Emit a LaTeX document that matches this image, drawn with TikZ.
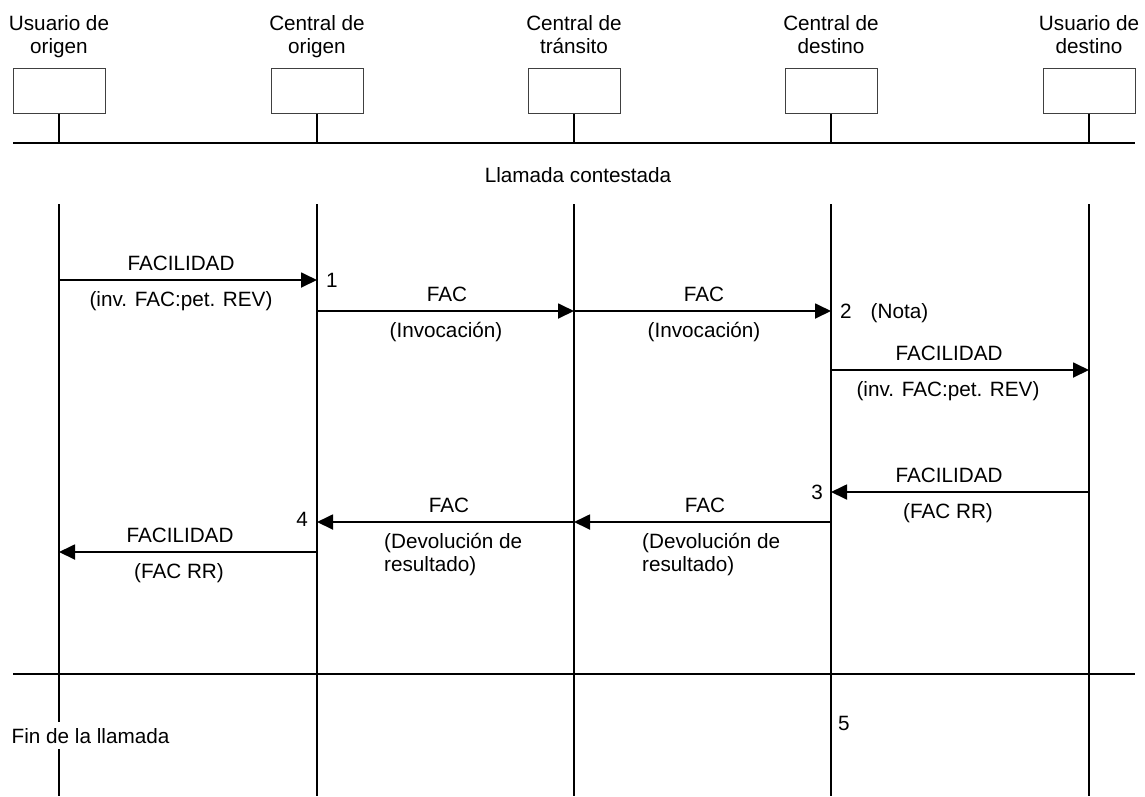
\documentclass[tikz,border=0pt]{standalone}
\usepackage{fontspec}
\setmainfont{Liberation Sans}
\usetikzlibrary{arrows.meta}
\newcommand{\twoline}[2]{\begin{tabular}[t]{@{}#1@{}}#2\end{tabular}}
\begin{document}
\begin{tikzpicture}[x=1pt,y=-1pt,
  every node/.style={inner sep=0pt, font=\fontsize{20.7}{23}\selectfont},
  entity/.style={draw=black!75, line width=1pt, minimum width=92pt, minimum height=45pt, anchor=north},
  life/.style={line width=1.8pt},
  sepline/.style={line width=2pt},
  msg/.style={line width=1.8pt, -{Triangle[length=16pt,width=15pt]}},
  lbl/.style={anchor=base},
  lblw/.style={anchor=base west},
  lble/.style={anchor=base east}]
\useasboundingbox (0,0) rectangle (1145,796);

% entities
\foreach \n/\x in {uo/59, co/317, ct/574, cd/831, ud/1089}{
  \node[entity] (\n) at (\x,68) {};
  \coordinate (\n-bus) at (\x,143);
  \coordinate (\n-top) at (\x,204);
  \coordinate (\n-bot) at (\x,796);
  \draw[life] (\n.south) -- (\n-bus);
  \draw[life] (\n-top) -- (\n-bot);
}
\node[lbl] (huo) at (59,30)  {\twoline{c}{Usuario de\\origen}};
\node[lbl] (hco) at (317,30) {\twoline{c}{Central de\\origen}};
\node[lbl] (hct) at (574,30) {\twoline{c}{Central de\\tránsito}};
\node[lbl] (hcd) at (831,30) {\twoline{c}{Central de\\destino}};
\node[lbl] (hud) at (1089,30){\twoline{c}{Usuario de\\destino}};

% separators
\coordinate (busL) at (13,143); \coordinate (busR) at (1135,143);
\draw[sepline] (busL) -- (busR);
\coordinate (endL) at (13,674); \coordinate (endR) at (1135,674);
\draw[sepline] (endL) -- (endR);

\node[lbl] (contestada) at (578,182) {Llamada contestada};

% message end points
\coordinate (a1s) at (59,280);  \coordinate (a1e) at (317,280);
\coordinate (a2s) at (317,311); \coordinate (a2e) at (574,311);
\coordinate (a3s) at (574,311); \coordinate (a3e) at (831,311);
\coordinate (a4s) at (831,370); \coordinate (a4e) at (1089,370);
\coordinate (a5s) at (1089,492);\coordinate (a5e) at (831,492);
\coordinate (a6s) at (831,522); \coordinate (a6e) at (574,522);
\coordinate (a7s) at (574,522); \coordinate (a7e) at (317,522);
\coordinate (a8s) at (317,552); \coordinate (a8e) at (59,552);

\draw[msg] (a1s) -- (a1e);
\draw[msg] (a2s) -- (a2e);
\draw[msg] (a3s) -- (a3e);
\draw[msg] (a4s) -- (a4e);
\draw[msg] (a5s) -- (a5e);
\draw[msg] (a6s) -- (a6e);
\draw[msg] (a7s) -- (a7e);
\draw[msg] (a8s) -- (a8e);

% labels
\node[lbl] (l1a) at (181,270) {FACILIDAD};
\node[lbl] (l1b) at (181,306.5) {(inv. FAC:pet. REV)};
\node[lbl] (l2a) at (447,301) {FAC};
\node[lbl] (l2b) at (446,337.5) {(Invocación)};
\node[lbl] (l3a) at (704,301) {FAC};
\node[lbl] (l3b) at (704,337.5) {(Invocación)};
\node[lbl] (l4a) at (949,360) {FACILIDAD};
\node[lbl] (l4b) at (948,396.5) {(inv. FAC:pet. REV)};
\node[lbl] (l5a) at (949,482) {FACILIDAD};
\node[lbl] (l5b) at (948,518.5) {(FAC RR)};
\node[lbl] (l6a) at (705,512) {FAC};
\node[lblw] (l6b) at (642,548) {\twoline{l}{(Devolución de\\resultado)}};
\node[lbl] (l7a) at (449,512) {FAC};
\node[lblw] (l7b) at (384,548) {\twoline{l}{(Devolución de\\resultado)}};
\node[lbl] (l8a) at (180,542) {FACILIDAD};
\node[lbl] (l8b) at (179,578.5) {(FAC RR)};

% step numbers
\node[lblw] (n1) at (326,287) {1};
\node[lblw] (n2) at (840,318) {2\hspace{19pt}(Nota)};
\node[lble] (n3) at (823,499) {3};
\node[lble] (n4) at (308,526) {4};
\node[lblw] (n5) at (838,730) {5};

\node[lblw, fill=white, inner xsep=2pt, inner ysep=6pt] (fin) at (9.5,743) {Fin de la llamada};
\end{tikzpicture}
\end{document}
